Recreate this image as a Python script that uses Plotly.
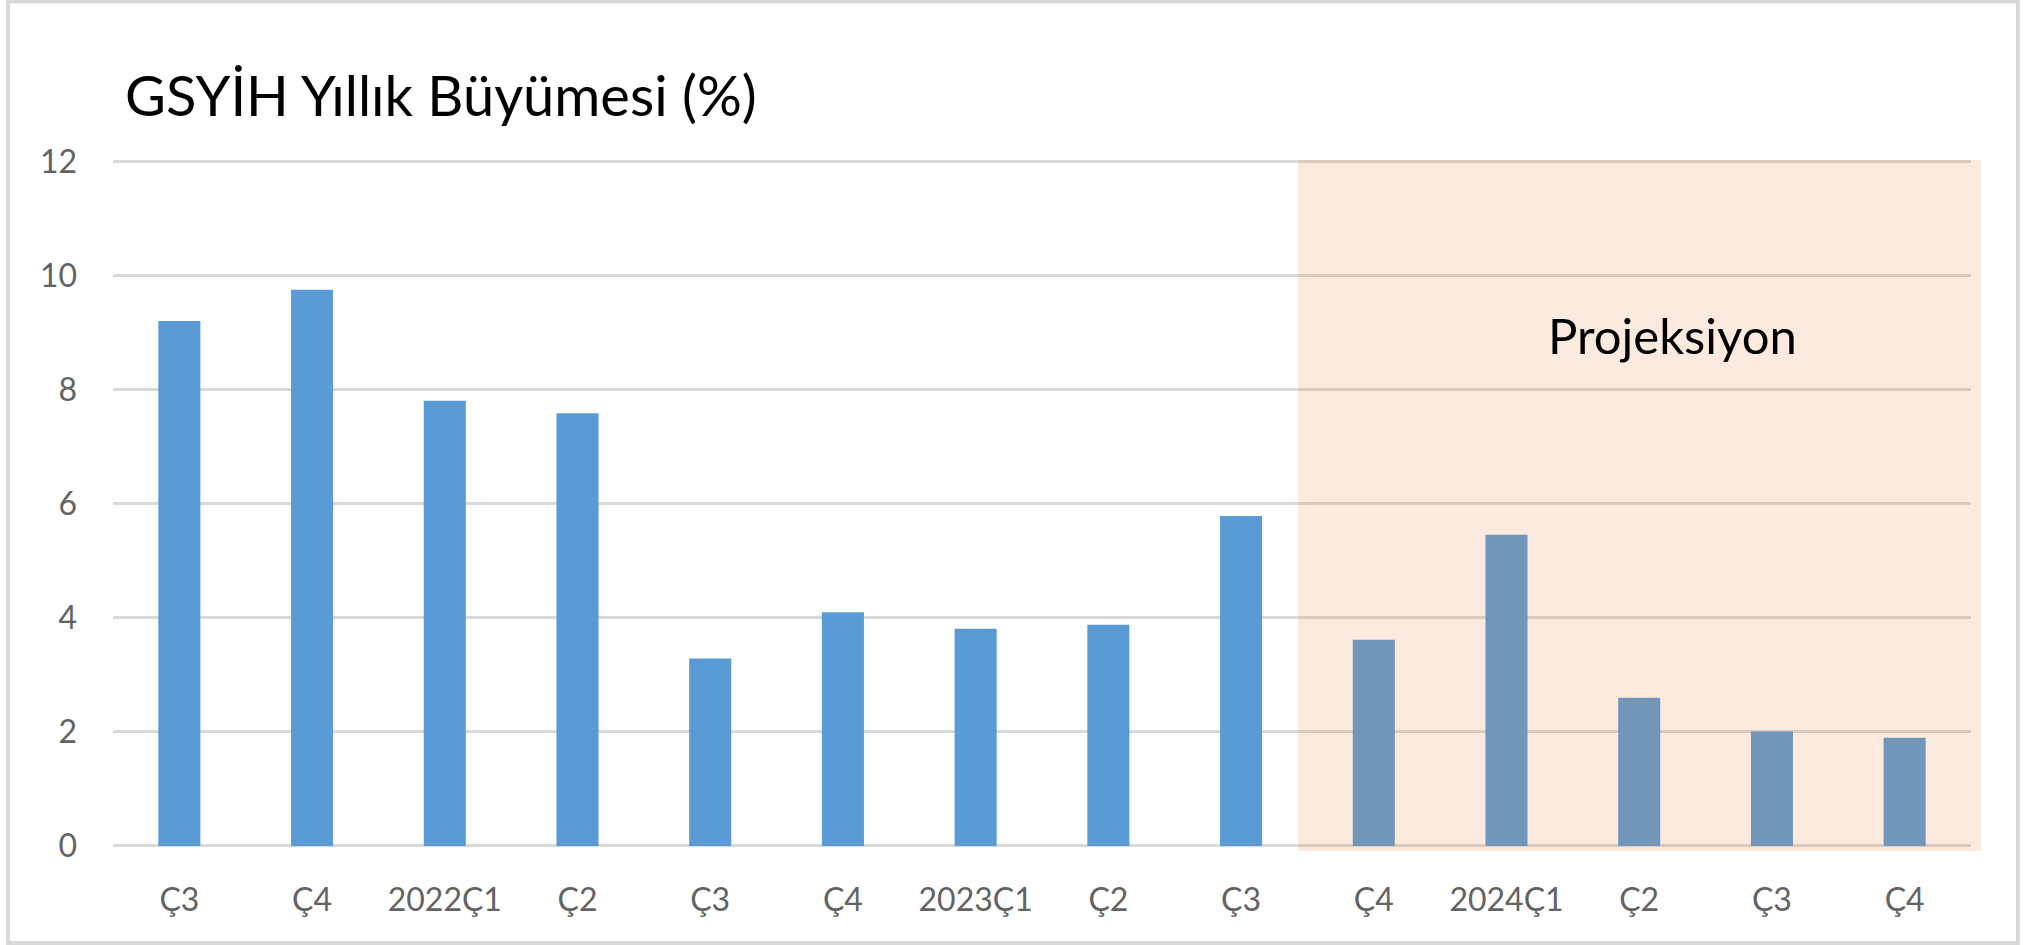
import plotly.graph_objects as go

# ---- data ----
quarter_labels = ["Ç3", "Ç4", "2022Ç1", "Ç2", "Ç3", "Ç4", "2023Ç1", "Ç2", "Ç3",
                  "Ç4", "2024Ç1", "Ç2", "Ç3", "Ç4"]
growth_values = [9.21, 9.76, 7.81, 7.59, 3.29, 4.10, 3.81, 3.88, 5.79,
                 3.62, 5.46, 2.60, 2.01, 1.90]
y_ticks = [0, 2, 4, 6, 8, 10, 12]
title_text = "GSYİH Yıllık Büyümesi (%)"
projection_text = "Projeksiyon"

# ---- layout constants ----
W, H = 2023, 945
ML, MR, MT, MB = 113, 52, 160, 94
FONT = "Lato"
x_pos = list(range(len(quarter_labels)))

fig = go.Figure()
fig.add_trace(go.Bar(
    x=x_pos, y=growth_values,
    marker=dict(color="#5B9BD5", line=dict(width=0)),
    width=0.317,
    hoverinfo="skip",
))

plot_w = W - ML - MR
plot_h = H - MT - MB

def px_x(px):
    return (px - ML) / plot_w

def px_y(py):
    return (H - MB - py) / plot_h

shapes = [
    # projection shading (semi-transparent overlay)
    dict(type="rect", xref="x domain", yref="y",
         x0=(8.43 + 0.5) / 14.0, x1=1.0054, y0=-0.088, y1=12.035,
         fillcolor="rgba(237,125,49,0.16)", line=dict(width=0), layer="above"),
    # outer frame
    dict(type="rect", xref="paper", yref="paper",
         x0=px_x(8), x1=px_x(2018), y0=px_y(1.5), y1=px_y(943),
         line=dict(color="#D9D9D9", width=4), fillcolor="rgba(0,0,0,0)", layer="below"),
]

fig.update_layout(
    width=W, height=H,
    margin=dict(l=ML, r=MR, t=MT, b=MB, pad=0),
    paper_bgcolor="white", plot_bgcolor="white",
    showlegend=False,
    bargap=0.683,
    title=dict(text=title_text, x=125 / W, xanchor="left", xref="container",
               y=1 - 96 / H, yanchor="middle", yref="container",
               font=dict(family=FONT, size=56, color="black")),
    shapes=shapes,
    annotations=[dict(text=projection_text, xref="x", yref="y", x=11.25, y=8.97,
                      showarrow=False, xanchor="center", yanchor="middle",
                      font=dict(family=FONT, size=49, color="black"))],
    xaxis=dict(range=[-0.5, 13.5], tickvals=x_pos, ticktext=quarter_labels,
               showgrid=False, zeroline=False, showline=False, ticks="",
               ticklabelstandoff=27,
               tickfont=dict(family=FONT, size=32, color="#636363"),
               fixedrange=True),
    yaxis=dict(range=[-0.088, 12.035], tickvals=y_ticks,
               showgrid=True, gridcolor="#D9D9D9", gridwidth=3,
               zeroline=True, zerolinecolor="#D9D9D9", zerolinewidth=3,
               showline=False, ticks="", ticklabelstandoff=35,
               tickfont=dict(family=FONT, size=32, color="#636363"),
               fixedrange=True),
)

fig.write_html("out.html", config={"displayModeBar": False})
